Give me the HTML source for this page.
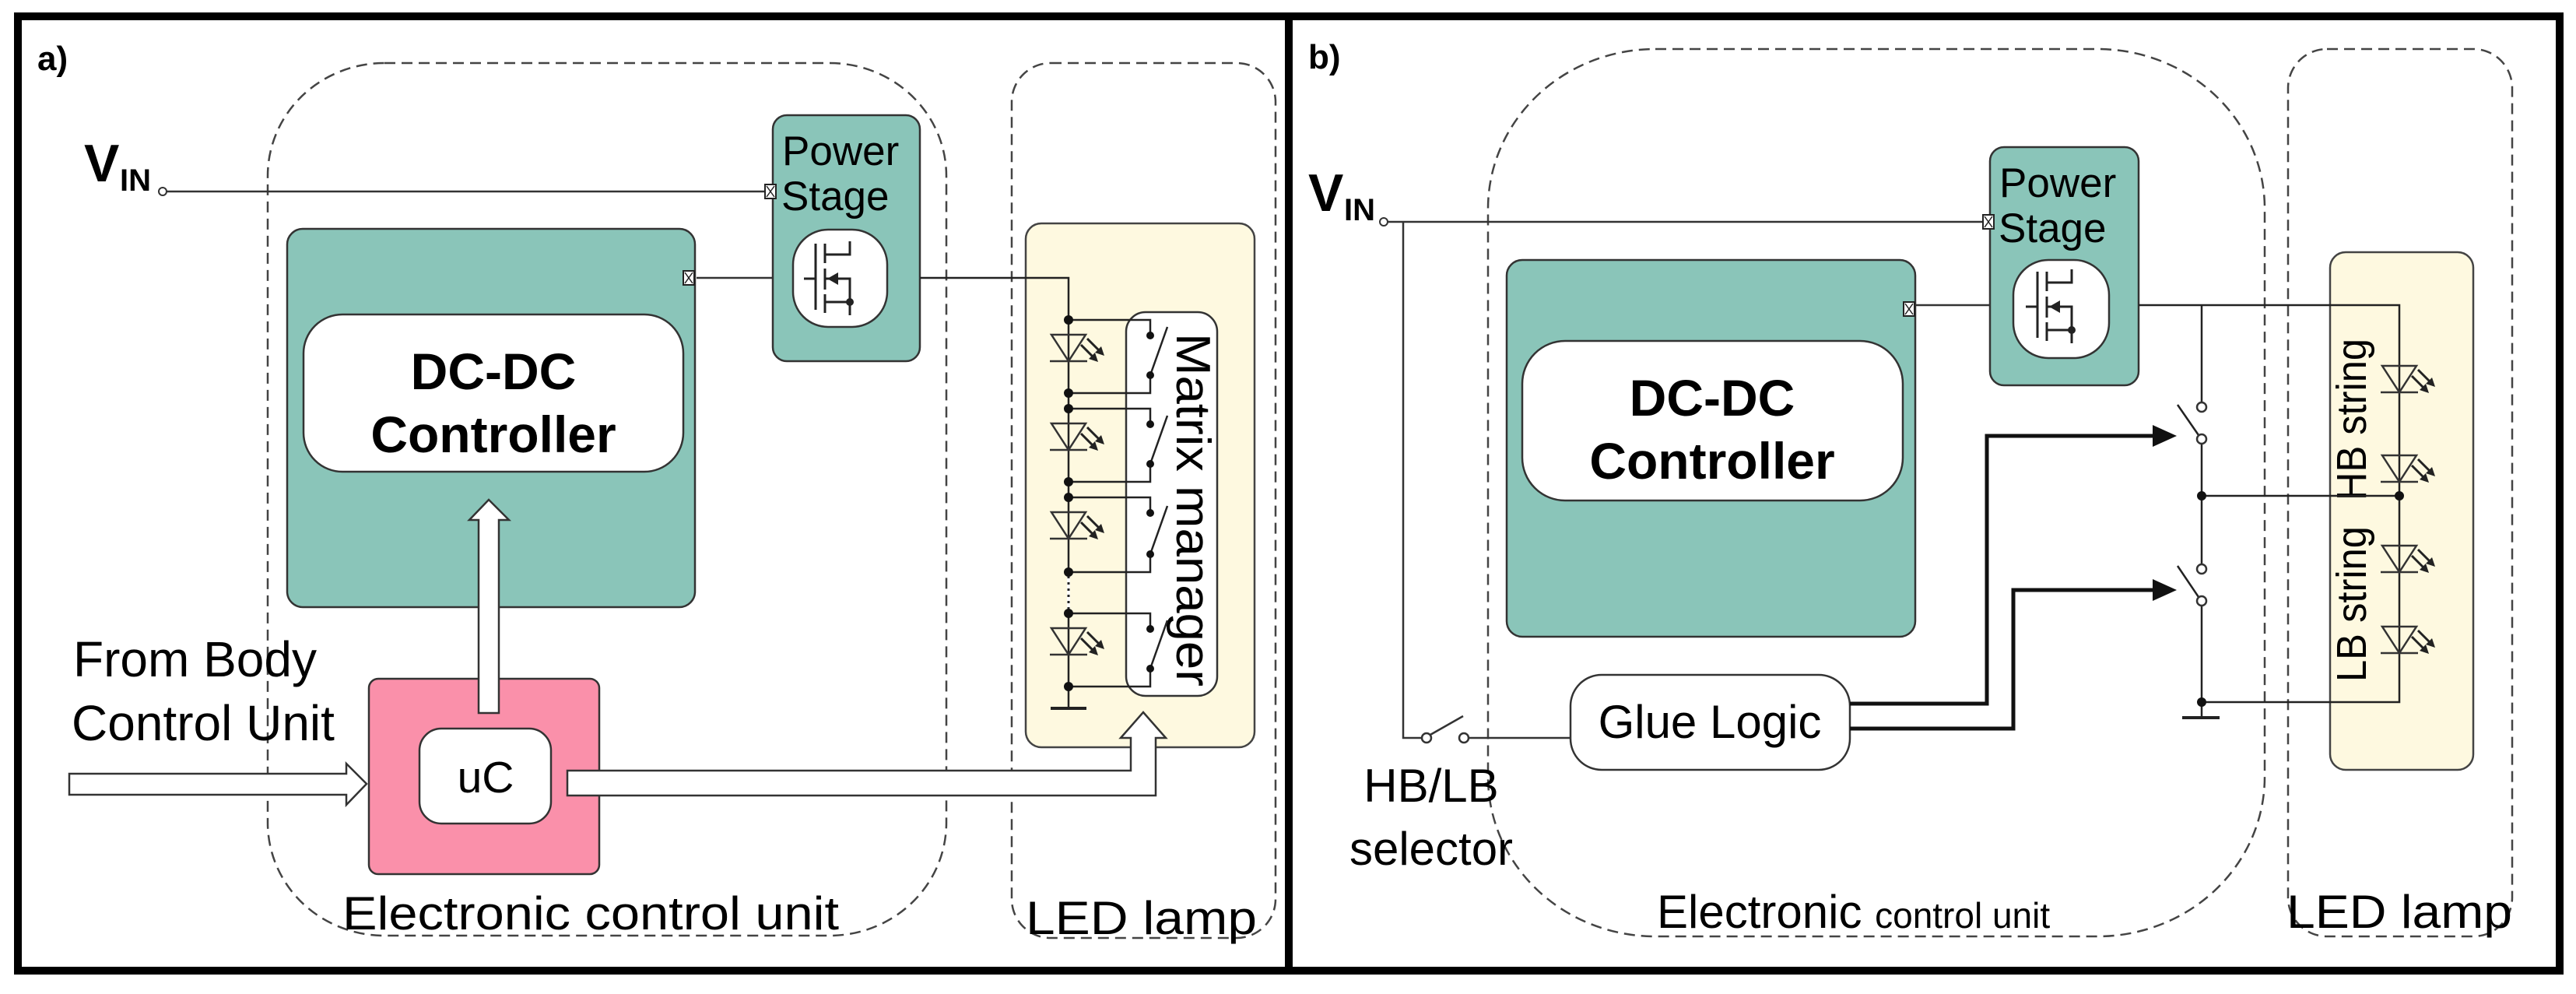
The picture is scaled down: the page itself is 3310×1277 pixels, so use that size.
<!DOCTYPE html>
<html><head><meta charset="utf-8"><style>
html,body{margin:0;padding:0;background:#fff;}
svg{display:block;}
text{font-family:"Liberation Sans",Arial,sans-serif;fill:#000;}
</style></head><body>
<svg width="3310" height="1277" viewBox="0 0 3310 1277" xmlns="http://www.w3.org/2000/svg">
<defs>
<g id="mos" stroke="#222" stroke-width="3" fill="none">
 <line x1="14" y1="63" x2="29" y2="63"/>
 <line x1="29" y1="18" x2="29" y2="103"/>
 <line x1="41" y1="18" x2="41" y2="43"/>
 <line x1="41" y1="50" x2="41" y2="77"/>
 <line x1="41" y1="83" x2="41" y2="107"/>
 <polyline points="41,32 73,32 73,15"/>
 <polyline points="41,63 73,63 73,110"/>
 <line x1="41" y1="93" x2="73" y2="93"/>
 <polygon points="44,63 58,55 58,71" fill="#222" stroke="none"/>
 <circle cx="73" cy="93" r="5" fill="#222" stroke="none"/>
</g>
<g id="led">
 <polygon points="-22,-17 22,-17 0,17" fill="none" stroke="#333" stroke-width="2.5"/>
 <line x1="-24" y1="17" x2="24" y2="17" stroke="#333" stroke-width="2.5"/>
 <line x1="16" y1="-4" x2="32" y2="12" stroke="#222" stroke-width="3"/>
 <polygon points="38,18 26,14 34,6" fill="#222"/>
 <line x1="24" y1="-12" x2="40" y2="4" stroke="#222" stroke-width="3"/>
 <polygon points="46,10 34,6 42,-2" fill="#222"/>
</g>
<g id="conn">
 <rect x="-7" y="-9" width="14" height="18" fill="#fff" stroke="#222" stroke-width="2"/>
 <line x1="-5" y1="-7" x2="5" y2="7" stroke="#222" stroke-width="1.5"/>
 <line x1="5" y1="-7" x2="-5" y2="7" stroke="#222" stroke-width="1.5"/>
</g>
</defs>

<rect x="23" y="21" width="3266" height="1226" fill="none" stroke="#000" stroke-width="10"/>
<line x1="1656" y1="21" x2="1656" y2="1247" stroke="#000" stroke-width="10"/>

<!-- ========== PANEL A ========== -->
<text x="48" y="90" font-size="44" font-weight="bold">a)</text>
<rect x="344" y="81" width="872" height="1121" rx="150" ry="145" fill="none" stroke="#444" stroke-width="2.5" stroke-dasharray="14,8"/>
<rect x="1300" y="81" width="339" height="1124" rx="50" ry="50" fill="none" stroke="#444" stroke-width="2.5" stroke-dasharray="14,8"/>

<text x="108" y="233" font-size="68" font-weight="bold">V</text>
<text x="154" y="245" font-size="40" font-weight="bold">IN</text>
<line x1="214" y1="246" x2="985" y2="246" stroke="#333" stroke-width="2.5"/>
<circle cx="209" cy="246" r="5" fill="#fff" stroke="#333" stroke-width="2"/>

<rect x="369" y="294" width="524" height="486" rx="20" fill="#8ac5b9" stroke="#333" stroke-width="2.5"/>
<rect x="390" y="404" width="488" height="202" rx="50" fill="#fff" stroke="#333" stroke-width="2.5"/>
<text x="634" y="500" font-size="66" font-weight="bold" text-anchor="middle">DC-DC</text>
<text x="634" y="581" font-size="66" font-weight="bold" text-anchor="middle">Controller</text>

<rect x="993" y="148" width="189" height="316" rx="18" fill="#8ac5b9" stroke="#333" stroke-width="2.5"/>
<text x="1005" y="212" font-size="53">Power</text>
<text x="1004" y="270" font-size="53">Stage</text>
<rect x="1019" y="295" width="121" height="125" rx="45" fill="#fff" stroke="#333" stroke-width="2.5"/>
<use href="#mos" x="1019" y="295"/>
<line x1="895" y1="357" x2="993" y2="357" stroke="#333" stroke-width="2.5"/>
<use href="#conn" x="885" y="357"/>
<use href="#conn" x="990" y="246"/>

<rect x="1318" y="287" width="294" height="673" rx="20" fill="#fef9e0" stroke="#444" stroke-width="2.5"/>
<rect x="1447" y="401" width="117" height="493" rx="25" fill="#fff" stroke="#333" stroke-width="2.5"/>
<text transform="translate(1512,655) rotate(90)" font-size="62" text-anchor="middle" textLength="454" lengthAdjust="spacingAndGlyphs">Matrix manager</text>
<polyline points="1182,357 1373,357 1373,910" fill="none" stroke="#222" stroke-width="2.5"/>
<line x1="1373" y1="737" x2="1373" y2="788" stroke="#fff" stroke-width="4"/>
<line x1="1373" y1="740" x2="1373" y2="786" stroke="#222" stroke-width="3" stroke-dasharray="3,5"/>
<line x1="1350" y1="910" x2="1396" y2="910" stroke="#222" stroke-width="4"/>
<g stroke="#222" stroke-width="2.5" fill="none">
 <polyline points="1373,411 1478,411 1478,429"/><polyline points="1478,482 1478,505 1373,505"/><line x1="1478" y1="482" x2="1500" y2="420"/>
 <polyline points="1373,525 1478,525 1478,543"/><polyline points="1478,596 1478,619 1373,619"/><line x1="1478" y1="596" x2="1500" y2="534"/>
 <polyline points="1373,639 1478,639 1478,657"/><polyline points="1478,712 1478,735 1373,735"/><line x1="1478" y1="712" x2="1500" y2="650"/>
 <polyline points="1373,788 1478,788 1478,806"/><polyline points="1478,859 1478,882 1373,882"/><line x1="1478" y1="859" x2="1500" y2="797"/>
</g>
<g fill="#111">
 <circle cx="1373" cy="411" r="6"/><circle cx="1373" cy="505" r="6"/><circle cx="1373" cy="525" r="6"/><circle cx="1373" cy="619" r="6"/>
 <circle cx="1373" cy="639" r="6"/><circle cx="1373" cy="735" r="6"/><circle cx="1373" cy="788" r="6"/><circle cx="1373" cy="882" r="6"/>
 <circle cx="1478" cy="431" r="5"/><circle cx="1478" cy="482" r="5"/><circle cx="1478" cy="545" r="5"/><circle cx="1478" cy="596" r="5"/>
 <circle cx="1478" cy="659" r="5"/><circle cx="1478" cy="712" r="5"/><circle cx="1478" cy="808" r="5"/><circle cx="1478" cy="859" r="5"/>
</g>
<use href="#led" x="1373" y="447"/>
<use href="#led" x="1373" y="561"/>
<use href="#led" x="1373" y="675"/>
<use href="#led" x="1373" y="824"/>

<rect x="474" y="872" width="296" height="251" rx="12" fill="#fa90aa" stroke="#333" stroke-width="2.5"/>
<rect x="539" y="936" width="169" height="122" rx="28" fill="#fff" stroke="#333" stroke-width="2.5"/>
<text x="624" y="1018" font-size="57" text-anchor="middle">uC</text>
<polygon points="615,916 615,668 603,668 628,642 654,668 641,668 641,916" fill="#fff" stroke="#333" stroke-width="2.5"/>
<polygon points="89,994 445,994 445,981 471,1007 445,1034 445,1021 89,1021" fill="#fff" stroke="#333" stroke-width="2.5"/>
<polygon points="729,990 1453,990 1453,948 1440,948 1469,915 1498,948 1485,948 1485,1022 729,1022" fill="#fff" stroke="#333" stroke-width="2.5"/>
<text x="94" y="869" font-size="64">From Body</text>
<text x="92" y="951" font-size="64">Control Unit</text>
<text x="440" y="1194" font-size="60" textLength="638" lengthAdjust="spacingAndGlyphs">Electronic control unit</text>
<text x="1318" y="1200" font-size="60" textLength="297" lengthAdjust="spacingAndGlyphs">LED lamp</text>

<!-- ========== PANEL B ========== -->
<text x="1681" y="88" font-size="44" font-weight="bold">b)</text>
<rect x="1912" y="63" width="998" height="1140" rx="215" ry="205" fill="none" stroke="#444" stroke-width="2.5" stroke-dasharray="14,8"/>
<rect x="2940" y="63" width="288" height="1140" rx="50" ry="50" fill="none" stroke="#444" stroke-width="2.5" stroke-dasharray="14,8"/>

<text x="1681" y="271" font-size="68" font-weight="bold">V</text>
<text x="1727" y="283" font-size="40" font-weight="bold">IN</text>
<line x1="1783" y1="285" x2="2557" y2="285" stroke="#333" stroke-width="2.5"/>
<circle cx="1778" cy="285" r="5" fill="#fff" stroke="#333" stroke-width="2"/>

<rect x="1936" y="334" width="525" height="484" rx="20" fill="#8ac5b9" stroke="#333" stroke-width="2.5"/>
<rect x="1956" y="438" width="489" height="205" rx="55" fill="#fff" stroke="#333" stroke-width="2.5"/>
<text x="2200" y="534" font-size="66" font-weight="bold" text-anchor="middle">DC-DC</text>
<text x="2200" y="615" font-size="66" font-weight="bold" text-anchor="middle">Controller</text>

<rect x="2557" y="189" width="191" height="306" rx="18" fill="#8ac5b9" stroke="#333" stroke-width="2.5"/>
<text x="2569" y="253" font-size="53">Power</text>
<text x="2568" y="311" font-size="53">Stage</text>
<rect x="2587" y="334" width="123" height="126" rx="45" fill="#fff" stroke="#333" stroke-width="2.5"/>
<use href="#mos" x="2589" y="331"/>
<line x1="2461" y1="392" x2="2557" y2="392" stroke="#333" stroke-width="2.5"/>
<use href="#conn" x="2453" y="397"/>
<use href="#conn" x="2555" y="285"/>

<polyline points="1803,285 1803,948 1827,948" fill="none" stroke="#333" stroke-width="2.5"/>
<line x1="1836" y1="945" x2="1880" y2="920" stroke="#333" stroke-width="2.5"/>
<line x1="1887" y1="948" x2="2018" y2="948" stroke="#333" stroke-width="2.5"/>
<circle cx="1833" cy="948" r="6" fill="#fff" stroke="#333" stroke-width="2.5"/>
<circle cx="1881" cy="948" r="6" fill="#fff" stroke="#333" stroke-width="2.5"/>
<text x="1839" y="1030" font-size="60" text-anchor="middle">HB/LB</text>
<text x="1839" y="1111" font-size="60" text-anchor="middle">selector</text>

<rect x="2018" y="867" width="359" height="122" rx="40" fill="#fff" stroke="#333" stroke-width="2.5"/>
<text x="2197" y="948" font-size="60" text-anchor="middle">Glue Logic</text>

<polyline points="2377,904 2553,904 2553,560 2770,560" fill="none" stroke="#111" stroke-width="5"/>
<polygon points="2797,560 2766,546 2766,574" fill="#111"/>
<polyline points="2377,936 2587,936 2587,758 2770,758" fill="none" stroke="#111" stroke-width="5"/>
<polygon points="2797,758 2766,744 2766,772" fill="#111"/>

<rect x="2994" y="324" width="184" height="665" rx="20" fill="#fef9e0" stroke="#444" stroke-width="2.5"/>
<text transform="translate(3040,539) rotate(-90)" font-size="54" text-anchor="middle" textLength="208" lengthAdjust="spacingAndGlyphs">HB string</text>
<text transform="translate(3040,776) rotate(-90)" font-size="54" text-anchor="middle" textLength="200" lengthAdjust="spacingAndGlyphs">LB string</text>

<g stroke="#222" stroke-width="2.5" fill="none">
 <polyline points="2748,392 3083,392 3083,902 2829,902"/>
 <line x1="2829" y1="392" x2="2829" y2="517"/>
 <line x1="2829" y1="570" x2="2829" y2="725"/>
 <line x1="2829" y1="778" x2="2829" y2="902"/>
 <line x1="2829" y1="637" x2="3083" y2="637"/>
 <line x1="2798" y1="520" x2="2825" y2="559"/>
 <line x1="2798" y1="727" x2="2825" y2="767"/>
 <line x1="2804" y1="922" x2="2852" y2="922" stroke-width="4"/>
 <line x1="2829" y1="902" x2="2829" y2="922"/>
</g>
<circle cx="2829" cy="523" r="6" fill="#fff" stroke="#333" stroke-width="2.5"/>
<circle cx="2829" cy="564" r="6" fill="#fff" stroke="#333" stroke-width="2.5"/>
<circle cx="2829" cy="731" r="6" fill="#fff" stroke="#333" stroke-width="2.5"/>
<circle cx="2829" cy="772" r="6" fill="#fff" stroke="#333" stroke-width="2.5"/>
<circle cx="2829" cy="637" r="6" fill="#111"/>
<circle cx="2829" cy="902" r="6" fill="#111"/>
<circle cx="3083" cy="637" r="6" fill="#111"/>
<use href="#led" x="3083" y="487"/>
<use href="#led" x="3083" y="602"/>
<use href="#led" x="3083" y="718"/>
<use href="#led" x="3083" y="822"/>

<text x="2129" y="1192" font-size="60">Electronic <tspan font-size="46">control unit</tspan></text>
<text x="2938" y="1192" font-size="60" textLength="290" lengthAdjust="spacingAndGlyphs">LED lamp</text>
</svg>
</body></html>
